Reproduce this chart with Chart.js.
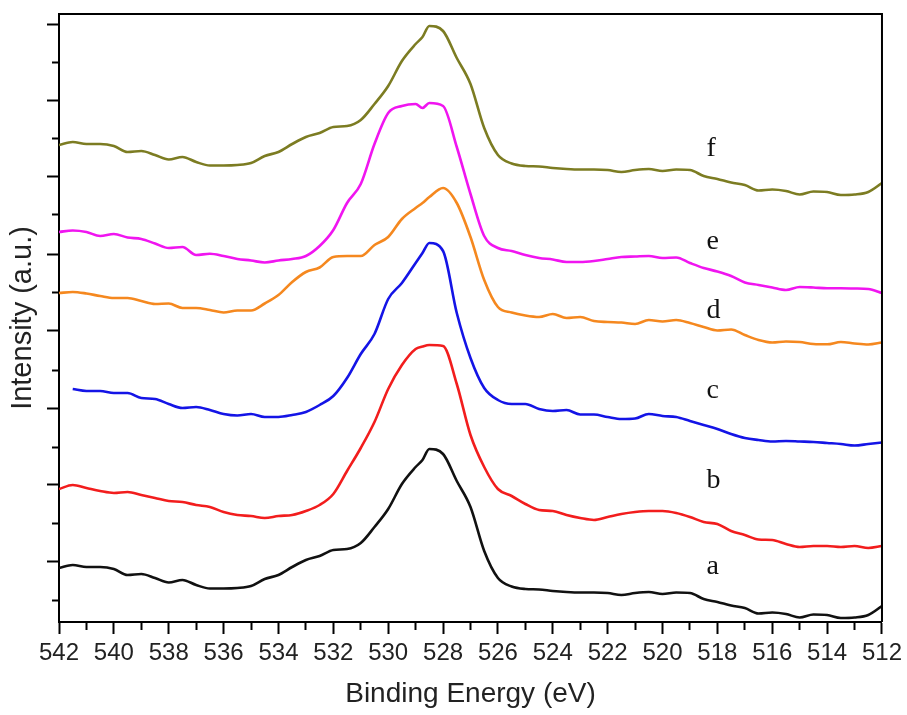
<!DOCTYPE html>
<html>
<head>
<meta charset="utf-8">
<script src="https://cdn.jsdelivr.net/npm/chart.js@4/dist/chart.umd.min.js"></script>
<style>
  html, body { margin: 0; padding: 0; background: #fff; }
  #chart { display: block; }
</style>
</head>
<body>
<canvas id="chart" width="907" height="715"></canvas>
<script>
// энергия связи, эВ (ось идёт справа налево)
const energies = [
    542, 541.5, 541, 540.5, 540, 539.5, 539, 538.5, 538, 537.5, 537, 536.5, 536, 535.5,
    535, 534.5, 534, 533.5, 533, 532.5, 532, 531.5, 531, 530.5, 530, 529.5, 529, 528.75,
    528.5, 528, 527.5, 527, 526.5, 526, 525.5, 525, 524.5, 524, 523.5, 523, 522.5, 522,
    521.5, 521, 520.5, 520, 519.5, 519, 518.5, 518, 517.5, 517, 516.5, 516, 515.5, 515,
    514.5, 514, 513.5, 513, 512.5, 512
];

// интенсивность, отн. ед. (со сдвигом между кривыми)
const curveA = [
    54, 57, 55, 55, 53, 47, 48, 44, 39.5, 42, 37, 33.5, 33.5, 34,
    36, 43, 47, 55, 62, 66, 72, 73, 79, 95, 113, 138, 155, 162,
    173, 168, 141, 115, 71, 44, 35.5, 33, 32.5, 31, 30, 29.5, 29.5, 29,
    27, 29, 30, 28, 29.5, 29, 23, 20, 16.5, 14, 8.5, 9.5, 8, 4.5,
    7.5, 7, 4, 4.5, 7, 16
];
const curveB = [
    133, 137, 134, 131, 129, 130, 127, 124, 121, 120, 117, 115, 110, 107,
    106, 104, 106, 107, 111, 117, 128, 151, 174, 200, 233, 257, 273, 275.5,
    277, 276, 238, 187, 155, 133, 126, 118, 112, 111, 107, 104, 102, 105,
    108, 110, 111, 111, 109, 105, 100, 98, 91, 87, 82.5, 82, 78, 75,
    76, 76, 75, 76, 74, 76
];
const curveC = [
    null, 233, 231, 231, 229, 229, 224, 223, 218, 214, 215, 212, 208, 206.5,
    208, 205, 205, 207, 210, 217, 226, 244, 268, 288, 323, 339, 359, 369,
    379, 371, 309, 264, 234, 222, 218, 218, 213, 211, 212, 207.5, 207.5, 205,
    203, 203.5, 208, 206, 205, 201, 197, 193, 188, 184, 182, 180.5, 181, 180.5,
    180, 179, 178, 176.5, 178, 179.5
];
const curveD = [
    329, 330, 328.5, 326, 324, 324, 321, 318, 318.5, 314, 314, 312, 309.5, 311.5,
    311.5, 318.5, 327, 340, 350, 354.5, 365, 366, 366, 377, 385, 403, 414, 419,
    425, 434, 419, 385, 342, 315, 309.5, 306.5, 305, 308, 304, 305, 301, 300,
    299.5, 298, 302, 300.5, 302, 299, 295, 291.5, 292.5, 287, 282, 279.5, 280.5, 280,
    278, 277.7, 280, 278.5, 277.5, 279.5
];
const curveE = [
    390, 391.5, 390, 386, 388, 384.5, 383, 378.5, 374, 375, 367, 368.3, 366, 363,
    361.5, 359.5, 361.5, 363, 366, 376, 392, 419, 438, 478, 509, 516, 518, 514,
    519, 516, 475, 428, 386, 374, 371, 367, 364, 362.5, 360, 360, 361, 363,
    365, 365.5, 366, 364, 364.5, 359, 354, 350.5, 346, 339.5, 337, 334.5, 332, 335,
    334.5, 333.7, 333.7, 333.5, 333, 329
];
const curveF = [
    477, 480, 478, 478, 476, 470, 471, 467, 462.5, 465, 460, 456.5, 456.5, 457,
    459, 466, 470, 478, 485, 489, 495, 496, 502, 518, 536, 561, 578, 585,
    596, 591, 564, 538, 494, 467, 458.5, 456, 455.5, 454, 453, 452.5, 452.5, 452,
    450, 452, 453, 451, 452.5, 452, 446, 443, 439.5, 437, 431.5, 432.5, 431, 427.5,
    430.5, 430, 427, 427.5, 430, 439
];

// подписи кривых и их уровни
const curveNames = ['a', 'b', 'c', 'd', 'e', 'f'];
const labelEnergy = 518.4;
const labelLevels = [48, 134, 224, 304, 373, 466];

// деления оси Y (без подписей)
const yTickValues = [22, 61, 99, 138, 175, 214, 252, 291, 330, 368, 407, 445, 484, 522, 560, 598];
const yMajorTicks = [61, 138, 214, 291, 368, 445, 522, 598];

const toPoints = vals => energies.map((e, i) => ({ x: e, y: vals[i] }));

// рамка сверху и справа + буквы у кривых
const framePlugin = {
    id: 'frame',
    afterDatasetsDraw(chart) {
        const { ctx, chartArea: a, scales } = chart;
        ctx.save();
        ctx.strokeStyle = '#000';
        ctx.lineWidth = 2;
        ctx.beginPath();
        ctx.moveTo(a.left, a.top);
        ctx.lineTo(a.right, a.top);
        ctx.lineTo(a.right, a.bottom);
        ctx.stroke();

        ctx.fillStyle = '#111';
        ctx.font = '28px "Liberation Serif", "Times New Roman", serif';
        ctx.textAlign = 'left';
        ctx.textBaseline = 'alphabetic';
        curveNames.forEach((name, i) => {
            ctx.fillText(name, scales.x.getPixelForValue(labelEnergy), scales.y.getPixelForValue(labelLevels[i]));
        });
        ctx.restore();
    }
};

const ctx = document.getElementById('chart');

new Chart(ctx, {
    type: 'line',
    data: {
        datasets: [
            { label: 'a', data: toPoints(curveA), borderColor: '#111111' },
            { label: 'b', data: toPoints(curveB), borderColor: '#f21d1d' },
            { label: 'c', data: toPoints(curveC), borderColor: '#1414e6' },
            { label: 'd', data: toPoints(curveD), borderColor: '#f5881f' },
            { label: 'e', data: toPoints(curveE), borderColor: '#f015f0' },
            { label: 'f', data: toPoints(curveF), borderColor: '#7c7c22' }
        ]
    },
    options: {
        responsive: false,
        animation: false,
        layout: { padding: { top: 14, right: 23, left: 0, bottom: 0 } },
        plugins: {
            legend: { display: false },
            tooltip: { enabled: false }
        },
        elements: {
            point: { radius: 0 },
            line: { borderWidth: 2.6, cubicInterpolationMode: 'monotone' }
        },
        scales: {
            x: {
                type: 'linear',
                reverse: true,
                min: 512,
                max: 542,
                afterFit: s => { s.height = 93; },
                border: { color: '#000', width: 2 },
                grid: {
                    drawOnChartArea: false,
                    tickLength: 12,
                    tickColor: '#000',
                    tickWidth: 2,
                    // короткие деления на нечётных значениях
                    tickBorderDash: c => (c.tick && c.tick.value % 2 !== 0) ? [7, 20] : []
                },
                ticks: {
                    stepSize: 1,
                    autoSkip: false,
                    maxRotation: 0,
                    padding: 5,
                    color: '#222',
                    font: { family: '"Liberation Sans", Arial, sans-serif', size: 24 },
                    callback: v => (v % 2 === 0 ? String(v) : '')
                },
                title: {
                    display: true,
                    text: 'Binding Energy (eV)',
                    color: '#222',
                    font: { family: '"Liberation Sans", Arial, sans-serif', size: 28 },
                    padding: { top: 0, bottom: 4 }
                }
            },
            y: {
                min: 0,
                max: 608,
                afterBuildTicks: s => { s.ticks = yTickValues.map(v => ({ value: v })); },
                afterFit: s => { s.width = 59; },
                border: { color: '#000', width: 2 },
                grid: {
                    drawOnChartArea: false,
                    tickLength: 12,
                    tickColor: '#000',
                    tickWidth: 2,
                    tickBorderDash: c => (c.tick && !yMajorTicks.includes(c.tick.value)) ? [7, 5] : [],
                    tickBorderDashOffset: c => (c.tick && !yMajorTicks.includes(c.tick.value)) ? 7 : 0
                },
                ticks: { display: false },
                title: {
                    display: true,
                    text: 'Intensity (a.u.)',
                    color: '#222',
                    font: { family: '"Liberation Sans", Arial, sans-serif', size: 29 },
                    padding: { top: 6, bottom: 0 }
                }
            }
        }
    },
    plugins: [framePlugin]
});
</script>
</body>
</html>
